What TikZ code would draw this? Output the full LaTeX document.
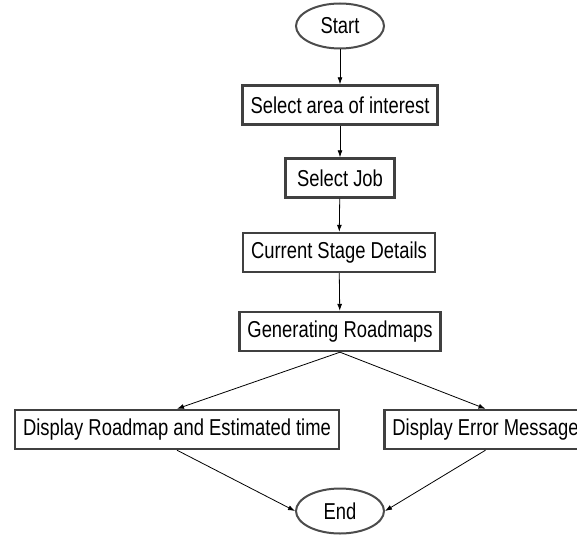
\documentclass[tikz,border=0pt]{standalone}
\usepackage{fontspec}
\setmainfont{Liberation Sans}[FakeStretch=0.8]
\usetikzlibrary{shapes,calc,positioning,arrows.meta}

\begin{document}
\begin{tikzpicture}[x=1pt,y=-1pt,
  box/.style={draw=black!75, line width=2.4pt, fill=white, minimum height=39pt, inner xsep=8pt, font=\fontsize{23}{27}\selectfont},
  term/.style={ellipse, draw=black!70, line width=2pt, minimum width=88pt, minimum height=45pt, inner sep=0pt, font=\fontsize{23}{27}\selectfont},
  flow/.style={-{Latex[length=7pt,width=5pt]}, line width=0.8pt}]
\useasboundingbox (0,0) rectangle (577,537);
\clip (0,0) rectangle (577,537);

\node[term] (start) at (340,26) {Start};
\node[box] (area) at (340,105) {Select area of interest};
\node[box, minimum width=109pt] (job) at (340,178) {Select Job};
\node[box] (stage) at (339,252.5) {Current Stage Details};
\node[box] (gen) at (340,331.5) {Generating Roadmaps};

\node[box] (show) at (177,429.5) {Display Roadmap and Estimated time};
\node[box] (err) at (485.5,429.5) {Display Error Message};

\node[term] (end) at (340,511) {End};

\draw[flow] (start) -- (area);
\draw[flow] (area) -- (job);
\draw[flow] (job) -- (stage);
\draw[flow] (stage) -- (gen);

\draw[flow] (gen.south) -- (show.north);
\draw[flow] (gen.south) -- (err.north);

\draw[flow] (show.south) -- (end.west);
\draw[flow] (err.south) -- (end.east);

\end{tikzpicture}
\end{document}
